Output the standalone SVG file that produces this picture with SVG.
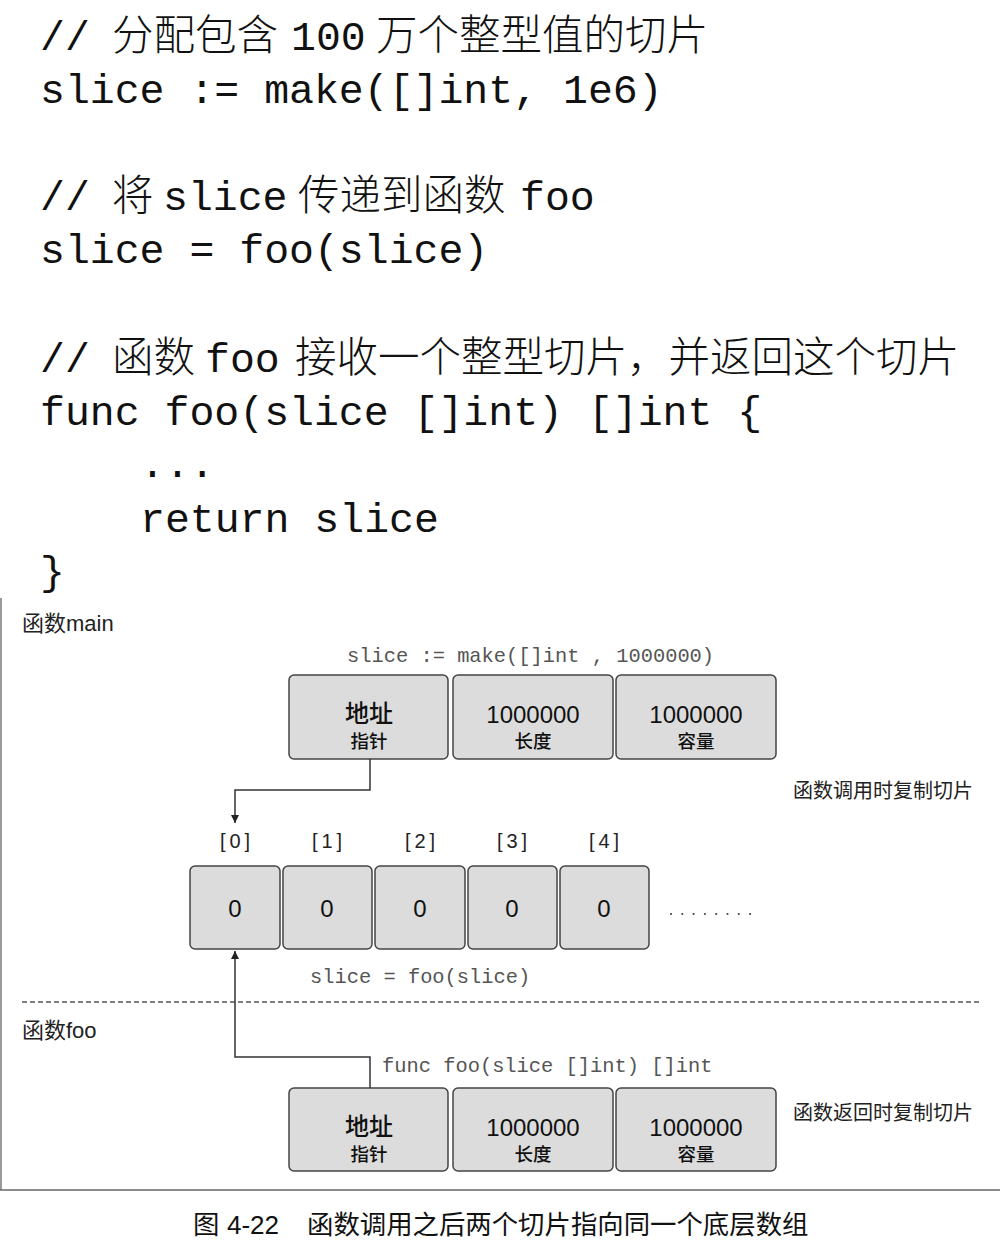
<svg xmlns="http://www.w3.org/2000/svg" width="1000" height="1241" viewBox="0 0 1000 1241">
<style>
.code{font-family:"Liberation Mono","Noto Sans CJK SC",monospace;font-size:41.5px;fill:#111}
.cjk{font-family:"Noto Sans CJK SC",sans-serif;font-size:41.5px;fill:#111;font-weight:300}
.mono{font-family:"Liberation Mono",monospace;font-size:20.4px;fill:#555}
.box{fill:#dcdcdc;stroke:#444;stroke-width:1.5}
.big{font-family:"Liberation Sans","Noto Sans CJK SC",sans-serif;font-size:24px;fill:#111;text-anchor:middle}
.bigc{font-family:"Noto Sans CJK SC",sans-serif;font-size:24px;fill:#111;text-anchor:middle;font-weight:500}
.small{font-family:"Noto Sans CJK SC",sans-serif;font-size:18.5px;fill:#111;text-anchor:middle;font-weight:500}
.idx{font-family:"Liberation Sans",sans-serif;font-size:20px;fill:#222;text-anchor:middle;letter-spacing:4px}
.lbl{font-family:"Noto Sans CJK SC",sans-serif;font-size:20px;fill:#222}
.lbl2{font-family:"Liberation Sans","Noto Sans CJK SC",sans-serif;font-size:22px;fill:#222}
.conn{fill:none;stroke:#333;stroke-width:1.5}
.cap{font-family:"Noto Sans CJK SC",sans-serif;font-size:26.4px;fill:#111}
.capn{font-family:"Liberation Sans",sans-serif;font-size:26px;fill:#111}
</style>
<defs>
<marker id="arr" viewBox="0 0 10 10" refX="10" refY="5" markerWidth="10" markerHeight="8" orient="auto" markerUnits="userSpaceOnUse">
<path d="M0,0 L10,5 L0,10 z" fill="#222"/>
</marker>
</defs>
<rect x="0" y="0" width="1000" height="1241" fill="#fff"/>

<g id="code">
<text y="50"><tspan class="code" x="40">//</tspan><tspan class="cjk" x="112">分配包含</tspan><tspan class="code" x="291">100</tspan><tspan class="cjk" x="376">万个整型值的切片</tspan></text>
<text class="code" x="40" y="103" xml:space="preserve">slice := make([]int, 1e6)</text>
<text y="210"><tspan class="code" x="40">//</tspan><tspan class="cjk" x="112">将</tspan><tspan class="code" x="163">slice</tspan><tspan class="cjk" x="298">传递到函数</tspan><tspan class="code" x="520">foo</tspan></text>
<text class="code" x="40" y="263" xml:space="preserve">slice = foo(slice)</text>
<text y="372"><tspan class="code" x="40">//</tspan><tspan class="cjk" x="112">函数</tspan><tspan class="code" x="205">foo</tspan><tspan class="cjk" x="295">接收一个整型切片，并返回这个切片</tspan></text>
<text class="code" x="40" y="425" xml:space="preserve">func foo(slice []int) []int {</text>
<text class="code" x="140" y="477">...</text>
<text class="code" x="140" y="532">return slice</text>
<text class="code" x="40" y="585">}</text>
</g>

<g id="frame">
<line x1="1" y1="598" x2="1" y2="1190" stroke="#777" stroke-width="1.5"/>
<line x1="0" y1="1190" x2="1000" y2="1190" stroke="#666" stroke-width="1.5"/>
<line x1="22" y1="1002" x2="982" y2="1002" stroke="#555" stroke-width="1.5" stroke-dasharray="5,3"/>
</g>

<g id="labels">
<text class="lbl2" x="22" y="631">函数main</text>
<text class="lbl2" x="22" y="1038">函数foo</text>
<text class="lbl" x="793" y="798">函数调用时复制切片</text>
<text class="lbl" x="793" y="1120">函数返回时复制切片</text>
<text class="mono" x="347" y="662" xml:space="preserve">slice := make([]int , 1000000)</text>
<text class="mono" x="310" y="983" xml:space="preserve">slice = foo(slice)</text>
<text class="mono" x="382" y="1072" xml:space="preserve">func foo(slice []int) []int</text>
</g>

<g id="main-slice">
<g id="main-ptr"><rect class="box" x="289" y="675" width="159" height="84" rx="5"/><text class="bigc" x="369" y="722">地址</text><text class="small" x="369" y="748">指针</text></g>
<g id="main-len"><rect class="box" x="453" y="675" width="160" height="84" rx="5"/><text class="big" x="533" y="723">1000000</text><text class="small" x="533" y="748">长度</text></g>
<g id="main-cap"><rect class="box" x="616" y="675" width="160" height="84" rx="5"/><text class="big" x="696" y="723">1000000</text><text class="small" x="696" y="748">容量</text></g>
</g>

<g id="array">
<g id="a0"><text class="idx" x="237" y="848">[0]</text><rect class="box" x="190" y="866" width="90" height="83" rx="5"/><text class="big" x="235" y="917">0</text></g>
<g id="a1"><text class="idx" x="329" y="848">[1]</text><rect class="box" x="283" y="866" width="89" height="83" rx="5"/><text class="big" x="327" y="917">0</text></g>
<g id="a2"><text class="idx" x="422" y="848">[2]</text><rect class="box" x="375" y="866" width="90" height="83" rx="5"/><text class="big" x="420" y="917">0</text></g>
<g id="a3"><text class="idx" x="514" y="848">[3]</text><rect class="box" x="468" y="866" width="89" height="83" rx="5"/><text class="big" x="512" y="917">0</text></g>
<g id="a4"><text class="idx" x="606" y="848">[4]</text><rect class="box" x="560" y="866" width="89" height="83" rx="5"/><text class="big" x="604" y="917">0</text></g>
<g id="more"><line x1="671" y1="914" x2="752" y2="914" stroke="#444" stroke-width="2.2" stroke-linecap="round" stroke-dasharray="0,11.3"/></g>
</g>

<g id="foo-slice">
<g id="foo-ptr"><rect class="box" x="289" y="1088" width="159" height="83" rx="5"/><text class="bigc" x="369" y="1135">地址</text><text class="small" x="369" y="1161">指针</text></g>
<g id="foo-len"><rect class="box" x="453" y="1088" width="160" height="83" rx="5"/><text class="big" x="533" y="1136">1000000</text><text class="small" x="533" y="1161">长度</text></g>
<g id="foo-cap"><rect class="box" x="616" y="1088" width="160" height="83" rx="5"/><text class="big" x="696" y="1136">1000000</text><text class="small" x="696" y="1161">容量</text></g>
</g>

<g id="connectors">
<path class="conn" d="M370,759 V790 H235 V823" marker-end="url(#arr)"/>
<path class="conn" d="M370,1088 V1057 H235 V951" marker-end="url(#arr)"/>
</g>

<g id="caption">
<text y="1234"><tspan class="cap" x="193">图</tspan><tspan class="capn" x="227">4-22</tspan><tspan class="cap" x="307">函数调用之后两个切片指向同一个底层数组</tspan></text>
</g>
</svg>
